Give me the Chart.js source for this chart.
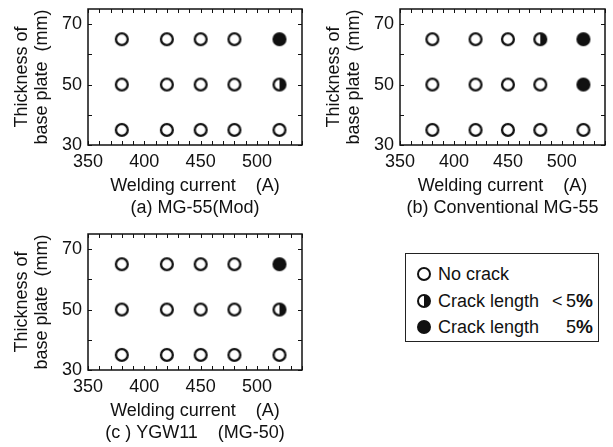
<!DOCTYPE html>
<html>
<head>
<meta charset="utf-8">
<script src="https://cdn.jsdelivr.net/npm/chart.js@4"></script>
<style>
  html, body { margin: 0; padding: 0; background: #fff; }
  body { width: 613px; height: 447px; position: relative; overflow: hidden; font-family: "Liberation Sans", Arial, sans-serif; color: #111; }
  .panel { position: absolute; }
  #legend { position: absolute; left: 405px; top: 253px; width: 192px; height: 87px; border: 1px solid #222; font-size: 18px; }
  .row { position: absolute; left: 0; width: 192px; height: 20px; line-height: 20px; white-space: nowrap; }
  .mk { position: absolute; left: 11px; top: 3px; width: 10px; height: 10px; border: 2.3px solid #111; border-radius: 50%; background: #fff; }
  .mk.half { background: linear-gradient(to right, #fff 50%, #111 50%); }
  .mk.full { background: #111; }
  .lbl { position: absolute; left: 32px; top: 0; }
  .abs { position: absolute; top: 0; }
  .pc { font-weight: bold; font-size: 19px; }
</style>
</head>
<body>
<div class="panel" style="left:0;top:0;width:310px;height:222px"><canvas id="chartA"></canvas></div>
<div class="panel" style="left:312px;top:0;width:301px;height:222px"><canvas id="chartB"></canvas></div>
<div class="panel" style="left:0;top:225px;width:310px;height:222px"><canvas id="chartC"></canvas></div>

<div id="legend">
  <div class="row" style="top:10px"><span class="mk"></span><span class="lbl">No crack</span></div>
  <div class="row" style="top:37px"><span class="mk half"></span><span class="lbl">Crack length</span>
    <span class="abs" style="left:146px">&lt;</span><span class="abs" style="left:160px">5</span><span class="abs pc" style="left:170px">%</span></div>
  <div class="row" style="top:63px"><span class="mk full"></span><span class="lbl">Crack length</span>
    <span class="abs" style="left:160px">5</span><span class="abs pc" style="left:170px">%</span></div>
</div>

<script>
"use strict";

// welding current (A) and base plate thickness (mm)
const currents = [380, 420, 450, 480, 520];
const thicknesses = [65, 50, 35];

// 0 = no crack, 1 = crack length < 5 %, 2 = crack length >= 5 %
// rows follow thicknesses, columns follow currents
const crackA = [
  [0, 0, 0, 0, 2],
  [0, 0, 0, 0, 1],
  [0, 0, 0, 0, 0],
];
const crackB = [
  [0, 0, 0, 1, 2],
  [0, 0, 0, 0, 2],
  [0, 0, 0, 0, 0],
];
const crackC = [
  [0, 0, 0, 0, 2],
  [0, 0, 0, 0, 1],
  [0, 0, 0, 0, 0],
];

const xTitle = "Welding current    (A)";
const yTitle = ["Thickness of", "base plate  (mm)"];
const captions = ["(a) MG-55(Mod)", "(b) Conventional MG-55", "(c ) YGW11    (MG-50)"];

const INK = "#111";
const FONT = "'Liberation Sans', Arial, sans-serif";

function makeMarker(kind) {
  const c = document.createElement("canvas");
  c.width = 16;
  c.height = 16;
  const g = c.getContext("2d");
  const r = 5.9;
  g.beginPath();
  g.arc(8, 8, r, 0, Math.PI * 2);
  g.fillStyle = "#fff";
  g.fill();
  if (kind === 1) {
    g.beginPath();
    g.arc(8, 8, r, -Math.PI / 2, Math.PI / 2);
    g.closePath();
    g.fillStyle = INK;
    g.fill();
  } else if (kind === 2) {
    g.beginPath();
    g.arc(8, 8, r, 0, Math.PI * 2);
    g.fillStyle = INK;
    g.fill();
  }
  g.beginPath();
  g.arc(8, 8, r, 0, Math.PI * 2);
  g.lineWidth = 2.3;
  g.strokeStyle = INK;
  g.stroke();
  return c;
}
const markers = [makeMarker(0), makeMarker(1), makeMarker(2)];

// frame around the plot plus inward ticks on all four sides
const framePlugin = {
  id: "frame",
  afterDraw(chart) {
    const { ctx, chartArea: a, scales } = chart;
    const len = 4;
    ctx.save();
    ctx.strokeStyle = INK;
    ctx.lineWidth = 1.5;
    ctx.strokeRect(a.left, a.top, a.right - a.left, a.bottom - a.top);
    ctx.lineWidth = 1;
    ctx.beginPath();
    scales.x.ticks.forEach((t) => {
      const px = Math.round(scales.x.getPixelForValue(t.value)) + 0.5;
      ctx.moveTo(px, a.bottom); ctx.lineTo(px, a.bottom - len);
      ctx.moveTo(px, a.top); ctx.lineTo(px, a.top + len);
    });
    scales.y.ticks.forEach((t) => {
      const py = Math.round(scales.y.getPixelForValue(t.value)) + 0.5;
      ctx.moveTo(a.left, py); ctx.lineTo(a.left + len, py);
      ctx.moveTo(a.right, py); ctx.lineTo(a.right - len, py);
    });
    ctx.stroke();
    ctx.restore();
  },
};

function buildChart(id, crack, caption, rightPad) {
  const pts = [];
  const styles = [];
  thicknesses.forEach((t, i) => {
    currents.forEach((cur, j) => {
      pts.push({ x: cur, y: t });
      styles.push(markers[crack[i][j]]);
    });
  });

  return new Chart(document.getElementById(id), {
    type: "scatter",
    data: {
      datasets: [{
        data: pts,
        pointStyle: styles,
        pointRadius: 7,
        pointHoverRadius: 7,
      }],
    },
    options: {
      responsive: true,
      maintainAspectRatio: false,
      animation: false,
      events: [],
      layout: { padding: { left: 0, right: rightPad, top: 9, bottom: 0 } },
      plugins: { legend: { display: false }, tooltip: { enabled: false } },
      scales: {
        x: {
          type: "linear",
          min: 350,
          max: 540,
          grid: { display: false, drawTicks: false },
          border: { display: false },
          ticks: {
            stepSize: 10,
            autoSkip: false,
            maxRotation: 0,
            includeBounds: false,
            padding: 6,
            color: INK,
            font: { family: FONT, size: 18 },
            callback: (v) => (v % 50 === 0 ? String(v) : ""),
          },
          title: {
            display: true,
            text: [xTitle, caption],
            color: INK,
            font: { family: FONT, size: 18, lineHeight: 1.22 },
            padding: { top: 0, bottom: 3 },
          },
          afterFit: (s) => {
            s.height = 77;
            s.paddingLeft = 0;
            s.paddingRight = 0;
          },
        },
        y: {
          type: "linear",
          min: 30,
          max: 75,
          grid: { display: false, drawTicks: false },
          border: { display: false },
          ticks: {
            stepSize: 10,
            includeBounds: false,
            padding: 6,
            color: INK,
            font: { family: FONT, size: 18 },
            callback: (v) => (v % 20 === 10 ? String(v) : ""),
          },
          title: {
            display: true,
            text: yTitle,
            color: INK,
            font: { family: FONT, size: 18, lineHeight: 1.12 },
            padding: { top: 12, bottom: 0 },
          },
          afterFit: (s) => {
            s.width = 88;
            s.paddingTop = 0;
            s.paddingBottom = 0;
          },
        },
      },
    },
    plugins: [framePlugin],
  });
}

buildChart("chartA", crackA, captions[0], 8);
buildChart("chartB", crackB, captions[1], 1);
buildChart("chartC", crackC, captions[2], 8);
</script>
</body>
</html>
